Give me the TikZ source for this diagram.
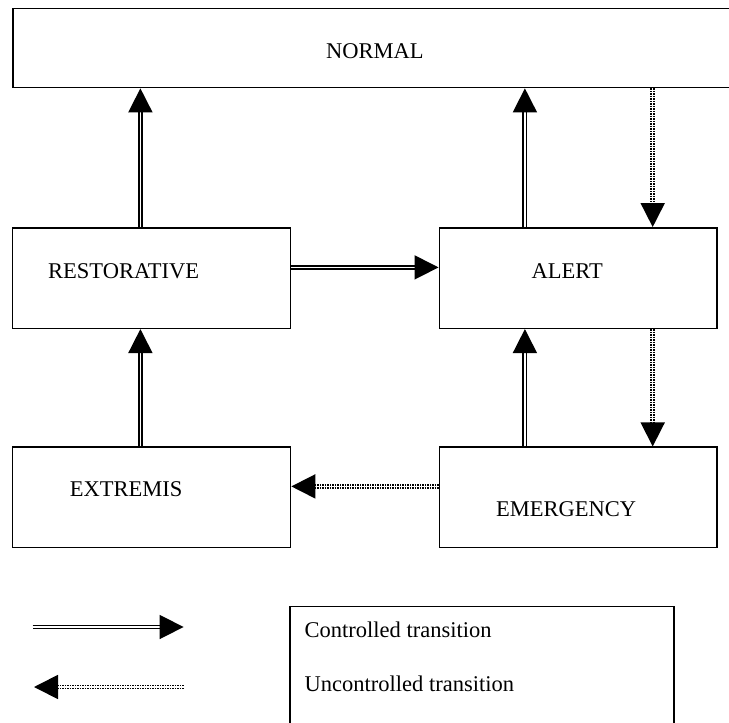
\documentclass[tikz,border=0pt]{standalone}
\usepackage{fontspec}
\setmainfont{Liberation Serif}
\usetikzlibrary{arrows.meta,calc}
\begin{document}
\begin{tikzpicture}[x=1pt,y=-1pt,
  box/.style={draw,line width=1.5pt,inner sep=0pt,fill=none},
  lbl/.style={anchor=base west,inner sep=0pt,font=\fontsize{22.5}{27}\selectfont},
  ctrl/.style={double,double distance=1.7pt,line width=1.6pt,-{Triangle[width=24pt,length=24pt]}},
  unctrl/.style={double,double distance=1.5pt,line width=1.7pt,dash pattern=on 1.5pt off 1.0pt,-{Triangle[width=24pt,length=24pt]}}]
\useasboundingbox (0,0) rectangle (729,723);
% boxes
\node[box,minimum width=719pt,minimum height=79.3pt] (normal) at (372.5,47.95) {};
\node[box,minimum width=278.1pt,minimum height=100.5pt] (rest) at (151.55,278.05) {};
\node[box,minimum width=277.6pt,minimum height=100.5pt] (alert) at (578.1,278.05) {};
\node[box,minimum width=278.1pt,minimum height=100.5pt] (extr) at (151.55,497.45) {};
\node[box,minimum width=277.6pt,minimum height=100.5pt] (emer) at (578.1,497.45) {};
\node[box,minimum width=384pt,minimum height=130pt] (legend) at (482,671.7) {};
% labels
\node[lbl] (normalt) at (326,58) {NORMAL};
\node[lbl] (restt) at (48,278) {RESTORATIVE};
\node[lbl] (alertt) at (531.4,278) {ALERT};
\node[lbl] (extrt) at (69.7,496.5) {EXTREMIS};
\node[lbl] (emert) at (496,516.4) {EMERGENCY};
\node[lbl] (ct) at (304.5,637.5) {Controlled transition};
\node[lbl] (ut) at (304.5,691.5) {Uncontrolled transition};
% transitions
\draw[ctrl] (140.4,0 |- rest.north) -- (140.4,0 |- normal.south);
\draw[ctrl] (524.9,0 |- alert.north) -- (524.9,0 |- normal.south);
\draw[unctrl] (652.7,0 |- normal.south) -- (652.7,0 |- alert.north);
\draw[ctrl] (rest.east |- 0,267.4) -- (alert.west |- 0,267.4);
\draw[unctrl] (652.7,0 |- alert.south) -- (652.7,0 |- emer.north);
\draw[ctrl] (524.9,0 |- emer.north) -- (524.9,0 |- alert.south);
\draw[ctrl] (140.4,0 |- extr.north) -- (140.4,0 |- rest.south);
\draw[unctrl] (emer.west |- 0,486.4) -- (extr.east |- 0,486.4);
% legend arrows
\coordinate (c1) at (32.5,627);
\coordinate (c2) at (183.6,627);
\coordinate (u1) at (183.6,687);
\coordinate (u2) at (34,687);
\draw[ctrl] (c1) -- (c2);
\draw[unctrl] (u1) -- (u2);
\end{tikzpicture}
\end{document}
